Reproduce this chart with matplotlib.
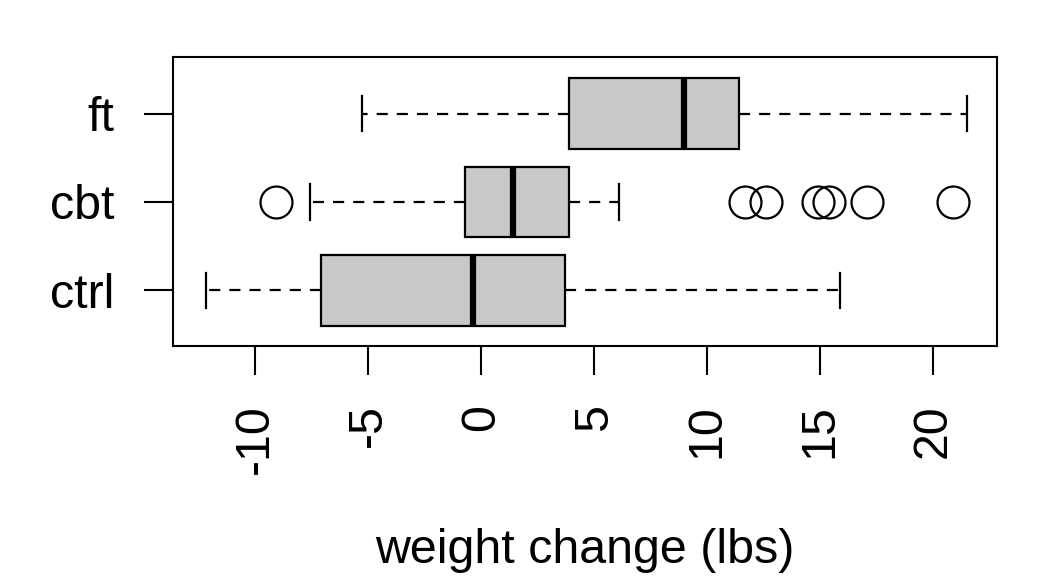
import numpy as np
import matplotlib
matplotlib.use("Agg")
import matplotlib.pyplot as plt

groups = ["ctrl", "cbt", "ft"]
ctrl = [-0.5, -9.3, -5.4, 12.3, -2.0, -10.2, -12.2, 11.6, -7.1, 6.2, -0.2, -9.2, 8.3,
        3.3, 11.3, 0.0, -1.0, -10.6, -4.6, -6.7, 2.8, 0.3, 1.8, 3.7, 15.9, -10.2]
cbt = [1.7, 0.7, -0.1, -0.7, -3.5, 14.9, 3.5, 17.1, -7.6, 1.6, 11.7, 6.1, 1.1, -4.0,
       20.9, -9.1, 2.1, -1.4, 1.4, -0.3, -3.7, -0.8, 2.4, 12.6, 1.9, 3.9, 0.1, 15.4, -0.7]
ft = [11.4, 11.0, 5.5, 9.4, 13.6, -2.9, -0.1, 7.4, 21.5, -5.3, -3.8, 13.4, 13.1, 9.0,
      3.9, 5.7, 10.7]
xticks = [-10, -5, 0, 5, 10, 15, 20]
xlabel = "weight change (lbs)"


def fivenum(x):
    x = np.sort(np.asarray(x, float))
    n = len(x)
    n4 = np.floor((n + 3) / 2) / 2
    d = np.array([1, n4, (n + 1) / 2, n + 1 - n4, n]) - 1
    return 0.5 * (x[np.floor(d).astype(int)] + x[np.ceil(d).astype(int)])


def rstats(x, label):
    x = np.asarray(x, float)
    f = fivenum(x)
    iqr = f[3] - f[1]
    lo, hi = f[1] - 1.5 * iqr, f[3] + 1.5 * iqr
    inside = x[(x >= lo) & (x <= hi)]
    out = x[(x < lo) | (x > hi)]
    return dict(med=f[2], q1=f[1], q3=f[3], whislo=inside.min(), whishi=inside.max(),
                fliers=out, label=label)


plt.rcParams['font.family'] = ['Liberation Sans', 'DejaVu Sans']
plt.rcParams['lines.scale_dashes'] = False

fig = plt.figure(figsize=(10.56, 5.76), dpi=100)
ax = fig.add_axes([173 / 1056, 1 - 346 / 576, (997 - 173) / 1056, (346 - 57) / 576])

stats = [rstats(d, g) for d, g in zip([ctrl, cbt, ft], groups)]
lw = 1.6
ax.bxp(stats, positions=[1, 2, 3], widths=0.8, capwidths=0.4, vert=False,
       patch_artist=True, manage_ticks=False,
       boxprops=dict(facecolor="#C8C8C8", edgecolor="black", linewidth=lw),
       medianprops=dict(color="black", linewidth=4.5, solid_capstyle="butt"),
       whiskerprops=dict(color="black", linewidth=lw, linestyle=(0, (8, 6.5))),
       capprops=dict(color="black", linewidth=lw),
       flierprops=dict(marker="o", markersize=23, markerfacecolor="none",
                       markeredgecolor="black", markeredgewidth=lw))

ax.set_xlim(-13.65, 22.85)
ax.set_ylim(0.37, 3.64)
ax.set_xticks(xticks)
ax.set_xticklabels([str(t) for t in xticks], rotation=90)
ax.set_yticks([1, 2, 3])
ax.set_yticklabels(groups)
ax.tick_params(axis="both", length=21, width=1.5, labelsize=34.8, pad=21, color="black")
for s in ax.spines.values():
    s.set_linewidth(1.5)
fig.text(585 / 1056, 1 - 563 / 576, xlabel, ha="center", va="baseline", fontsize=34.8)

fig.savefig("out.png", dpi=100)
